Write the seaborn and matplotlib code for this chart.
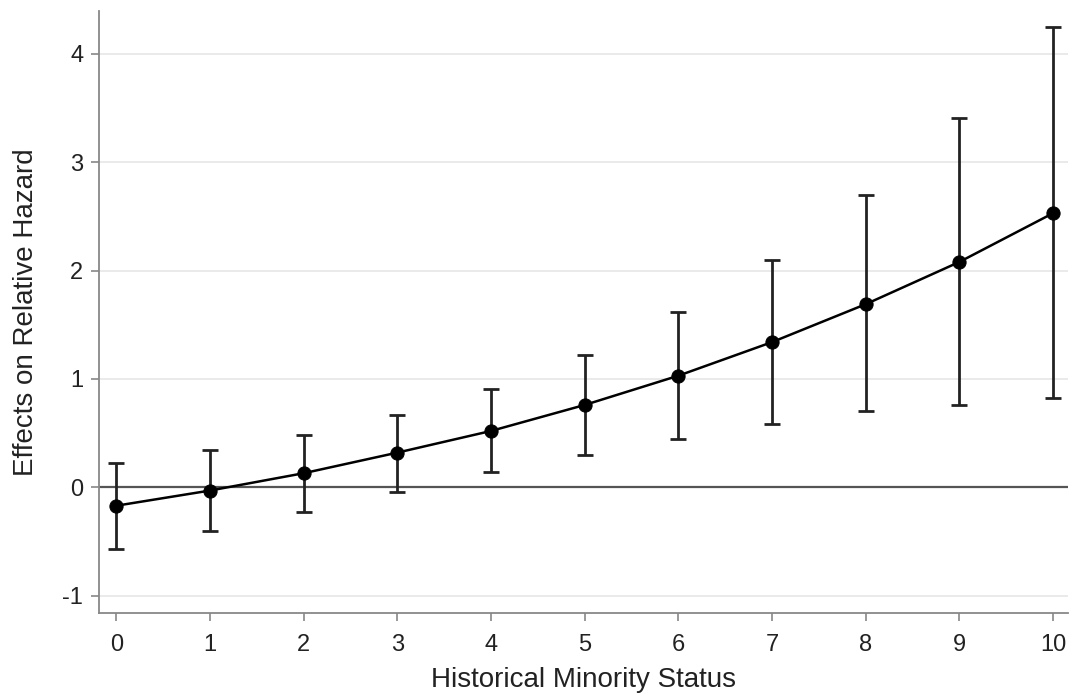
import numpy as np
import pandas as pd
import matplotlib
matplotlib.use("Agg")
import matplotlib.pyplot as plt
import seaborn as sns

# values
minority_status = [0, 1, 2, 3, 4, 5, 6, 7, 8, 9, 10]
effect = [-0.17, -0.03, 0.13, 0.32, 0.52, 0.76, 1.03, 1.34, 1.69, 2.08, 2.53]
ci_upper = [0.22, 0.34, 0.48, 0.67, 0.91, 1.22, 1.62, 2.10, 2.70, 3.41, 4.25]
ci_lower = [-0.57, -0.40, -0.23, -0.04, 0.14, 0.30, 0.45, 0.58, 0.70, 0.76, 0.82]

df = pd.DataFrame({"status": minority_status, "effect": effect,
                   "upper": ci_upper, "lower": ci_lower})

sns.set_style("white")
plt.rcParams["font.family"] = ["Liberation Sans", "DejaVu Sans"]
plt.rcParams["axes.unicode_minus"] = False

fig = plt.figure(figsize=(10.73, 6.96), dpi=100)
ax = fig.add_axes([0.0918, 0.1193, 0.9035, 0.8654])

# grid lines at y ticks
for v in [-1, 1, 2, 3, 4]:
    ax.axhline(v, color="#e6e6e6", lw=1.2, zorder=0)
ax.axhline(0, color="#555555", lw=1.6, zorder=1)

ax.errorbar(df["status"], df["effect"],
            yerr=[df["effect"] - df["lower"], df["upper"] - df["effect"]],
            fmt="none", ecolor="#222222", elinewidth=2, capsize=6, capthick=2, zorder=2)
sns.lineplot(data=df, x="status", y="effect", ax=ax, color="black", lw=1.8,
             marker="o", markersize=9.5, markeredgecolor="black", zorder=3)

ax.set_xlim(-0.19, 10.16)
ax.set_ylim(-1.16, 4.40)
ax.set_xticks(minority_status)
ax.set_yticks([-1, 0, 1, 2, 3, 4])
ax.set_xlabel("Historical Minority Status", fontsize=20, color="#222222", labelpad=8)
ax.set_ylabel("Effects on Relative Hazard", fontsize=20, color="#222222", labelpad=17)
ax.tick_params(axis="both", direction="out", length=6, width=1.2, color="#888888",
               labelsize=17, labelcolor="#222222", bottom=True, left=True)
ax.tick_params(axis="x", pad=9)
ax.tick_params(axis="y", pad=5)

for side in ["top", "right"]:
    ax.spines[side].set_visible(False)
for side in ["left", "bottom"]:
    ax.spines[side].set_color("#888888")
    ax.spines[side].set_linewidth(1.3)

fig.savefig("out.png", dpi=100)
